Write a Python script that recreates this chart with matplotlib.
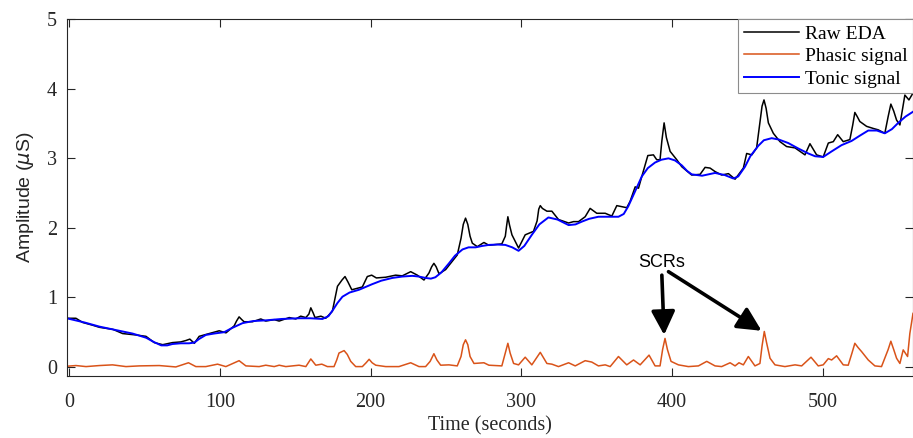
import matplotlib
matplotlib.use("Agg")
import matplotlib.pyplot as plt

# values (time in s, amplitude in uS)
tonic_t = [-1.7, 10, 20, 31, 42, 51, 56, 61, 65, 68.5, 74, 79.5, 83, 86, 90.6, 96, 102.8,
           108, 115, 122, 130.4, 141, 152.5, 160, 168, 172, 175, 178, 181.3, 186, 192.3,
           201, 207, 214.4, 221, 227.7, 232, 236.5, 240, 243, 247, 252, 256, 261, 265,
           269.7, 274, 278.5, 284, 289.4, 294, 298.2, 302, 307, 312, 318, 324, 331.4,
           336, 340.2, 345, 351.2, 358, 364.5, 368, 371, 375, 380, 384, 388.8, 393,
           397.7, 402, 406.5, 410, 413.1, 420, 428.6, 435, 440.8, 444, 448.5, 452,
           457.3, 461, 466.2, 471, 477.2, 484, 490.5, 495, 500.4, 506, 512.6, 519.2,
           525, 530.3, 536, 541.3, 546, 550.2, 555, 560]
tonic_v = [0.70, 0.64, 0.58, 0.53, 0.48, 0.42, 0.36, 0.31, 0.31, 0.33, 0.34, 0.34, 0.35,
           0.40, 0.46, 0.48, 0.50, 0.56, 0.63, 0.66, 0.67, 0.69, 0.70, 0.70, 0.69, 0.73,
           0.82, 0.92, 1.01, 1.07, 1.11, 1.19, 1.24, 1.28, 1.30, 1.31, 1.30, 1.28, 1.27,
           1.29, 1.36, 1.49, 1.60, 1.69, 1.72, 1.72, 1.74, 1.755, 1.76, 1.755, 1.72,
           1.67, 1.74, 1.90, 2.05, 2.15, 2.12, 2.04, 2.05, 2.09, 2.13, 2.16, 2.16, 2.16,
           2.20, 2.31, 2.50, 2.74, 2.86, 2.94, 2.98, 3.00, 2.97, 2.90, 2.82, 2.77, 2.75,
           2.79, 2.76, 2.71, 2.74, 2.88, 3.03, 3.18, 3.26, 3.29, 3.27, 3.22, 3.14, 3.07,
           3.03, 3.02, 3.10, 3.19, 3.25, 3.33, 3.40, 3.40, 3.36, 3.42, 3.51, 3.60, 3.67]

raw_t = [-1.7, 4.4, 8.8, 15.5, 20, 29, 35.4, 44.2, 50.9, 56.4, 62, 68.5, 74, 77.4, 80,
         83, 86.2, 92.8, 99.5, 104, 109.4, 111, 112.7, 114.5, 116, 121.6, 127.1, 130.4,
         136, 139.3, 146, 150.3, 153.6, 157, 159, 160.3, 161.8, 163.1, 167, 170.2,
         174.6, 178, 181, 183, 185, 187.5, 194.5, 197.8, 200.7, 203.8, 210, 216.6, 221,
         226.6, 231, 235.4, 238.7, 240.5, 242, 243.5, 245.4, 249.8, 257.5, 260, 261.5,
         263, 264.5, 266, 267.5, 270.8, 275.2, 278.5, 287.1, 289.4, 290.2, 291.1, 292.2,
         293.8, 298.2, 302.6, 308.1, 310.5, 311.6, 312.6, 314, 317, 320.3, 324.7,
         331.4, 334.7, 338, 342.4, 345.7, 350.1, 355.7, 360.1, 363.4, 370, 372.2,
         375.6, 377.8, 380, 384, 387.7, 389.9, 392.1, 393.3, 394.8, 396.3, 398.8,
         403.2, 406.5, 413.1, 418.7, 422, 425.3, 428.6, 433, 437.5, 441.9, 447.4,
         449.6, 453, 456.2, 458.4, 459.8, 461.1, 462.5, 464, 467.3, 471.7, 476.1,
         481.7, 488.3, 491.6, 496, 500.4, 503.8, 507.1, 510, 513.7, 518.1, 520, 521.4,
         523, 524.7, 529.2, 533.6, 536.9, 541.3, 543.5, 545.3, 547.2, 549.1, 551.3,
         553, 554.6, 557.3, 560]
raw_v = [0.70, 0.70, 0.64, 0.60, 0.57, 0.54, 0.48, 0.46, 0.44, 0.35, 0.32, 0.35, 0.36,
         0.38, 0.40, 0.34, 0.44, 0.48, 0.52, 0.49, 0.59, 0.66, 0.72, 0.68, 0.65, 0.65,
         0.69, 0.66, 0.68, 0.66, 0.71, 0.69, 0.73, 0.71, 0.76, 0.85, 0.78, 0.71, 0.73,
         0.70, 0.80, 1.16, 1.25, 1.30, 1.22, 1.11, 1.15, 1.30, 1.32, 1.28, 1.29, 1.32,
         1.31, 1.37, 1.32, 1.25, 1.35, 1.44, 1.49, 1.44, 1.34, 1.40, 1.61, 1.85, 2.05,
         2.14, 2.05, 1.88, 1.78, 1.73, 1.79, 1.75, 1.77, 1.88, 2.02, 2.16, 2.04, 1.90,
         1.71, 1.90, 1.95, 2.10, 2.27, 2.32, 2.28, 2.24, 2.24, 2.12, 2.07, 2.09, 2.09,
         2.16, 2.28, 2.21, 2.21, 2.17, 2.32, 2.29, 2.38, 2.59, 2.57, 2.74, 3.04, 3.05,
         2.98, 2.98, 3.25, 3.51, 3.30, 3.10, 2.98, 2.88, 2.76, 2.77, 2.87, 2.86, 2.81,
         2.76, 2.78, 2.70, 2.86, 3.07, 3.05, 3.15, 3.51, 3.75, 3.84, 3.72, 3.51, 3.36,
         3.24, 3.17, 3.15, 3.05, 3.21, 3.05, 3.02, 3.22, 3.24, 3.34, 3.24, 3.27, 3.48,
         3.66, 3.60, 3.53, 3.46, 3.43, 3.41, 3.36, 3.60, 3.78, 3.68, 3.55, 3.48, 3.70,
         3.91, 3.84, 3.94]

phasic_t = [-1.7, 4.4, 11.1, 20, 28.7, 37.6, 46.4, 59.7, 70.7, 79.1, 84, 90.6, 98.4,
            103.9, 112.7, 117.2, 126, 130.4, 136, 139.3, 143.7, 152.5, 157, 160.3,
            163.6, 167.6, 171.3, 175.7, 177.5, 179, 182.4, 184.5, 186.8, 190.1, 194.5,
            197, 199, 201, 203.4, 210, 218.8, 226.6, 232.1, 236.5, 239.5, 242, 244,
            246.5, 252, 257.5, 260, 261.5, 263, 264.5, 266, 268.6, 275.2, 278.5,
            287.1, 289.6, 291.1, 292.6, 294.9, 298.2, 302.6, 307, 312.6, 317, 320.3,
            324.7, 331.4, 335.8, 342.4, 346.8, 351.2, 355.7, 359, 364.5, 370, 374.5,
            378.9, 384.8, 388.8, 392.1, 393.8, 395.4, 397, 399.4, 404.3, 410.9, 417.6,
            423.1, 428.6, 433, 438.6, 441.9, 444.5, 447.4, 450.7, 455.1, 458.4, 459.8,
            461.3, 462.8, 465.1, 468.4, 475, 481.7, 486.1, 492.3, 497.1, 500.4, 503.8,
            506, 509.3, 513.7, 517, 519.5, 521.4, 523.5, 525.9, 530.3, 534.7, 539.1,
            543.5, 545.3, 547.2, 549.1, 551.3, 553.5, 556.4, 557.9, 560]
phasic_v = [0.01, 0.02, 0.005, 0.02, 0.03, 0.005, 0.015, 0.02, 0.0, 0.06, 0.005, 0.005,
            0.04, 0.005, 0.09, 0.015, 0.005, 0.025, 0.005, 0.025, 0.005, 0.025, 0.005,
            0.115, 0.025, 0.04, 0.005, 0.005, 0.10, 0.20, 0.235, 0.18, 0.08, 0.005, 0.005,
            0.06, 0.11, 0.06, 0.025, 0.005, 0.005, 0.06, 0.005, 0.005, 0.08, 0.19, 0.10,
            0.025, 0.03, 0.015, 0.15, 0.32, 0.39, 0.32, 0.15, 0.05, 0.06, 0.025, 0.015,
            0.22, 0.34, 0.20, 0.05, 0.03, 0.14, 0.03, 0.21, 0.05, 0.04, 0.005, 0.06,
            0.015, 0.09, 0.07, 0.015, 0.03, 0.005, 0.15, 0.03, 0.10, 0.03, 0.17, 0.015,
            0.015, 0.25, 0.41, 0.25, 0.08, 0.03, 0.005, 0.015, 0.08, 0.015, 0.005, 0.06,
            0.015, 0.06, 0.03, 0.15, 0.015, 0.05, 0.30, 0.51, 0.35, 0.125, 0.03, 0.005,
            0.03, 0.015, 0.14, 0.015, 0.03, 0.12, 0.10, 0.16, 0.03, 0.025, 0.20, 0.34,
            0.28, 0.22, 0.10, 0.015, 0.005, 0.25, 0.37, 0.25, 0.125, 0.05, 0.245, 0.15,
            0.48, 0.77]

labels = ["Raw EDA", "Phasic signal", "Tonic signal"]
x_ticks = [0, 100, 200, 300, 400, 500]
y_ticks = [0, 1, 2, 3, 4, 5]

SERIF = "Liberation Serif"
SANS = "Liberation Sans"
AX_COL = "#262626"


def main():
    fig = plt.figure(figsize=(9.13, 4.38), dpi=100)
    ax = fig.add_axes([0.0731, 0.1416, 0.9269, 0.8144])

    ax.plot(raw_t, raw_v, color="black", lw=1.1, label=labels[0])
    ax.plot(phasic_t, phasic_v, color="#D95319", lw=1.1, label=labels[1])
    ax.plot(tonic_t, tonic_v, color="#0000FF", lw=1.4, label=labels[2])

    ax.set_xlim(-1.7, 560)
    ax.set_ylim(-0.13, 5)
    ax.set_xticks(x_ticks)
    ax.set_yticks(y_ticks)
    ax.tick_params(direction="in", length=5.5, width=0.8, colors=AX_COL,
                   top=True, right=True, labelsize=14.5)
    ax.tick_params(axis="x", pad=12)
    ax.tick_params(axis="y", pad=7)
    for lab in ax.get_xticklabels() + ax.get_yticklabels():
        lab.set_family(SERIF)
    for sp in ax.spines.values():
        sp.set_color(AX_COL)
        sp.set_linewidth(0.8)

    ax.set_xlabel("Time (seconds)", family=SERIF, fontsize=14.5, color=AX_COL, labelpad=3)
    ax.set_ylabel(r"Amplitude ($\mu$S)", family=SANS, fontsize=14, color=AX_COL, labelpad=8)

    # SCR annotation
    ax.text(393, 1.50, "SCRs", family=SANS, fontsize=13, ha="center", va="center")
    arrow = dict(arrowstyle="-|>,head_length=0.9,head_width=0.45", lw=2.6,
                 color="black", shrinkA=0, shrinkB=0, mutation_scale=16)
    ax.annotate("", xy=(394.8, 0.46), xytext=(393.3, 1.32), arrowprops=arrow)
    ax.annotate("", xy=(459.5, 0.52), xytext=(397.7, 1.37), arrowprops=arrow)

    leg = ax.legend(loc="upper right", prop={"family": SERIF, "size": 14},
                    fancybox=False, framealpha=1, edgecolor="#8c8c8c",
                    borderaxespad=0, borderpad=0.3, handlelength=2.8,
                    handletextpad=0.3, labelspacing=0.25)
    leg.get_frame().set_linewidth(0.8)

    fig.savefig("out.png", dpi=100)


if __name__ == "__main__":
    main()
